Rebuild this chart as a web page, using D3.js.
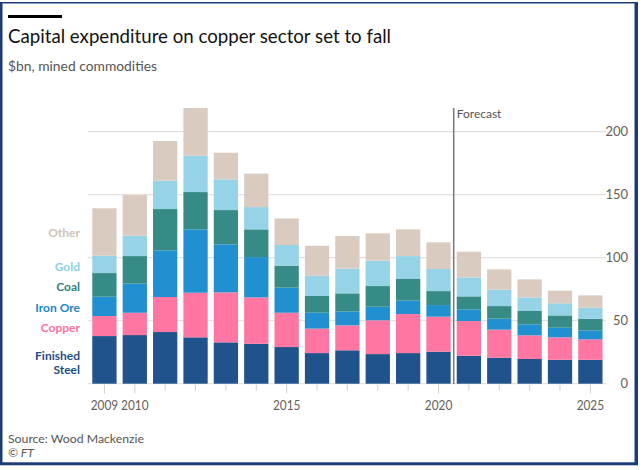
<!DOCTYPE html>
<html><head><meta charset="utf-8">
<script src="https://cdn.jsdelivr.net/npm/d3@7"></script>
<style>
html,body{margin:0;padding:0;background:#fff;}
svg{display:block;font-family:Lato,"Open Sans",sans-serif;}
</style></head>
<body><svg id="c" width="640" height="470"></svg>
<script>
const years = [2009,2010,2011,2012,2013,2014,2015,2016,2017,2018,2019,2020,2021,2022,2023,2024,2025];
const seriesNames = ["Finished Steel","Copper","Iron Ore","Coal","Gold","Other"];
const steel  = [37.8,38.6,41.0,36.8,32.8,31.7,29.1,24.3,26.5,23.5,24.3,25.4,22.2,20.6,19.6,19.0,19.0];
const copper = [15.9,17.7,27.8,35.4,39.7,36.8,27.2,19.4,19.8,26.8,31.0,27.8,27.5,22.3,18.8,17.8,16.2];
const ironOre= [15.3,23.1,37.0,50.3,38.1,32.0,19.9,12.6,11.1,10.8,10.6,9.2,9.3,8.7,8.7,7.6,6.9];
const coal   = [18.8,21.9,32.8,29.6,27.2,22.0,17.5,13.3,14.3,16.4,17.2,11.1,10.3,10.0,10.6,9.8,9.5];
const gold   = [13.8,16.2,22.5,28.9,24.4,17.7,16.4,16.1,19.6,20.1,18.2,17.5,15.1,13.0,10.8,9.6,8.7];
const other  = [37.6,32.2,31.5,37.8,21.1,26.5,21.1,23.8,25.9,21.7,21.2,21.2,20.4,16.1,14.3,10.0,9.8];
const yTicks = [0,50,100,150,200];
const xLabels = [2009,2010,2015,2020,2025];
const forecastFrom = 2021;

const barColors  = ["#20538b","#ff76a3","#2190d0","#378b86","#97d3e6","#dacbc0"];
const textColors = ["#1f4e86","#ff6f9d","#1a86c9","#327f7b","#8fcfe4","#cfc1b8"];

const svg = d3.select("#c");
const table = years.map((y,i)=>({year:y,"Finished Steel":steel[i],"Copper":copper[i],"Iron Ore":ironOre[i],"Coal":coal[i],"Gold":gold[i],"Other":other[i]}));
const stacked = d3.stack().keys(seriesNames)(table);

const x = d3.scaleBand().domain(years).range([86.2,608.6]).paddingInner(0.2).paddingOuter(0.2);
const y = d3.scaleLinear().domain([0,200]).range([383.7,131.7]);

// frame
svg.append("rect").attr("x",0).attr("y",2).attr("width",2.5).attr("height",463).attr("fill","#1c3b78");
svg.append("rect").attr("x",0).attr("y",2).attr("width",638).attr("height",1.5).attr("fill","#1c3b78");
svg.append("rect").attr("x",634.5).attr("y",2).attr("width",3.5).attr("height",463).attr("fill","#1c3b78");
svg.append("rect").attr("x",0).attr("y",462.3).attr("width",638).attr("height",3).attr("fill","#1c3b78");

// header
svg.append("rect").attr("x",8).attr("y",15).attr("width",54).attr("height",3).attr("fill","#000");
svg.append("text").attr("x",8).attr("y",43).attr("font-size",19).attr("fill","#111")
  .attr("textLength",383).attr("lengthAdjust","spacingAndGlyphs")
  .text("Capital expenditure on copper sector set to fall");
svg.append("text").attr("x",8).attr("y",71).attr("font-size",13.5).attr("fill","#555")
  .attr("textLength",149).attr("lengthAdjust","spacingAndGlyphs")
  .text("$bn, mined commodities");

// gridlines
svg.append("g").selectAll("line").data(yTicks).join("line")
  .attr("x1",88).attr("x2",606).attr("y1",d=>y(d)).attr("y2",d=>y(d))
  .attr("stroke","#e8e0da").attr("stroke-width",1.2);

// y labels
svg.append("g").selectAll("text").data(yTicks).join("text")
  .attr("x",628).attr("y",d=>y(d)+4.5).attr("text-anchor","end")
  .attr("font-size",13).attr("fill","#66605c").text(d=>d);

// bars
svg.append("g").selectAll("g").data(stacked).join("g")
  .attr("fill",(d,i)=>barColors[i])
  .selectAll("rect").data(d=>d).join("rect")
  .attr("x",d=>x(d.data.year)).attr("width",x.bandwidth())
  .attr("y",d=>y(d[1])).attr("height",d=>y(d[0])-y(d[1]));

// x ticks
const xa = svg.append("g");
xa.selectAll("line").data(years).join("line")
  .attr("x1",d=>x(d)+x.bandwidth()/2).attr("x2",d=>x(d)+x.bandwidth()/2)
  .attr("y1",384.5).attr("y2",d=>xLabels.includes(d)?393.5:390.5)
  .attr("stroke","#d6cdc6").attr("stroke-width",1);
xa.selectAll("text").data(xLabels).join("text")
  .attr("x",d=>x(d)+x.bandwidth()/2).attr("y",410).attr("text-anchor","middle")
  .attr("font-size",12.5).attr("fill","#66605c")
  .attr("textLength",27.5).attr("lengthAdjust","spacingAndGlyphs").text(d=>d);

// forecast line
const fx = x(forecastFrom) - (x.step()-x.bandwidth())/2;
svg.append("line").attr("x1",fx).attr("x2",fx).attr("y1",108).attr("y2",384)
  .attr("stroke","#777").attr("stroke-width",1.5);
svg.append("text").attr("x",fx+3).attr("y",118).attr("font-size",12).attr("fill","#555").text("Forecast");

// legend labels
const legendY = {"Other":[232.7],"Gold":[266.7],"Coal":[286.7],"Iron Ore":[307.7],"Copper":[327.7],"Finished Steel":[355.5,369.5]};
const legendLines = {"Other":["Other"],"Gold":["Gold"],"Coal":["Coal"],"Iron Ore":["Iron Ore"],"Copper":["Copper"],"Finished Steel":["Finished","Steel"]};
seriesNames.forEach((s,i)=>{
  legendLines[s].forEach((ln,j)=>{
    svg.append("text").attr("x",80).attr("y",legendY[s][j]+4.3).attr("text-anchor","end")
      .attr("font-size",12).attr("font-weight","bold").attr("fill",textColors[i]).text(ln);
  });
});

// source
svg.append("text").attr("x",8).attr("y",443).attr("font-size",12).attr("fill","#555")
  .attr("textLength",136).attr("lengthAdjust","spacingAndGlyphs").text("Source: Wood Mackenzie");
svg.append("text").attr("x",8).attr("y",457).attr("font-size",12).attr("fill","#555").attr("font-style","italic").text("© FT");
</script></body></html>
